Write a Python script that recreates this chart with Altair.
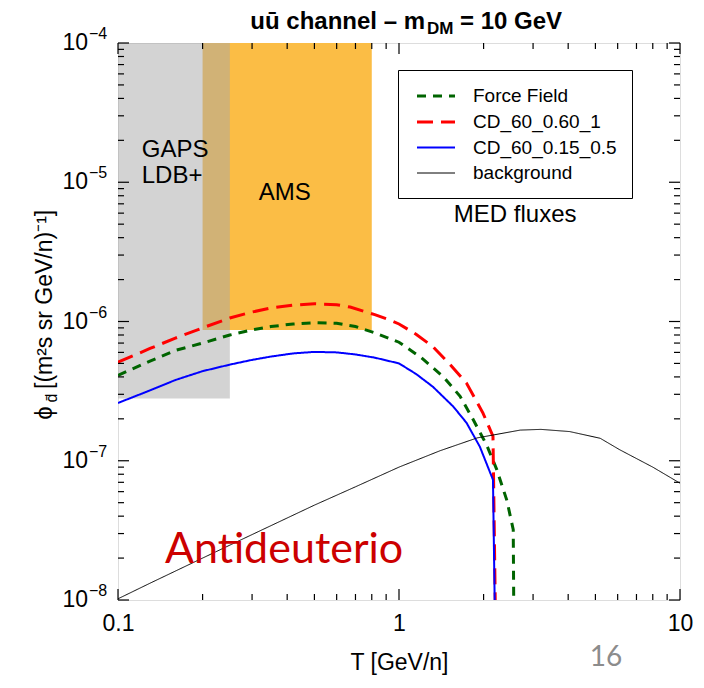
import altair as alt
import pandas as pd

# ---------------- data ----------------
series_names = ["Force Field", "CD_60_0.60_1", "CD_60_0.15_0.5", "background"]
series_colors = ["#006400", "#ff0000", "#0000ff", "#000000"]
series_dash = [[9, 7], [16, 8], [1, 0], [1, 0]]
series_width = [3, 3, 2, 1]

ff_T = [0.1, 0.13, 0.16, 0.2, 0.25, 0.3, 0.35, 0.42, 0.5, 0.6, 0.7, 0.82, 1.0, 1.2, 1.44, 1.65, 1.83, 2.05, 2.23, 2.42, 2.55, 2.56]
ff_phi = [4.1e-7, 5.2e-7, 6.2e-7, 7.0e-7, 8.0e-7, 8.7e-7, 9.2e-7, 9.6e-7, 9.8e-7, 9.7e-7, 9.2e-7, 8.3e-7,
          7.1e-7, 5.5e-7, 4.0e-7, 2.9e-7, 2.0e-7, 1.3e-7, 8.6e-8, 5.2e-8, 3.2e-8, 1e-8]

cd1_T = [0.1, 0.13, 0.16, 0.2, 0.25, 0.3, 0.35, 0.42, 0.5, 0.6, 0.67, 0.82, 0.92, 1.0, 1.15, 1.32, 1.52, 1.74, 1.99, 2.16, 2.2]
cd1_phi = [5.1e-7, 6.4e-7, 7.6e-7, 9.0e-7, 1.06e-6, 1.17e-6, 1.25e-6, 1.31e-6, 1.34e-6, 1.32e-6, 1.27e-6, 1.12e-6,
           1.03e-6, 9.6e-7, 8.1e-7, 6.6e-7, 4.9e-7, 3.6e-7, 2.2e-7, 1.5e-7, 1e-8]

cd2_T = [0.1, 0.13, 0.16, 0.2, 0.25, 0.3, 0.35, 0.42, 0.5, 0.6, 0.7, 0.82, 1.0, 1.15, 1.32, 1.56, 1.74, 1.94, 2.16, 2.19]
cd2_phi = [2.6e-7, 3.2e-7, 3.8e-7, 4.4e-7, 4.9e-7, 5.3e-7, 5.6e-7, 5.9e-7, 6.05e-7, 6.0e-7, 5.8e-7, 5.5e-7,
           5.0e-7, 4.2e-7, 3.4e-7, 2.45e-7, 1.87e-7, 1.26e-7, 7.3e-8, 1e-8]

bg_T = [0.1, 0.13, 0.2, 0.3, 0.387, 0.5, 0.7, 1.0, 1.4, 1.9, 2.7, 3.2, 4.05, 5.2, 6.1, 8.0, 10.0]
bg_phi = [1.02e-8, 1.32e-8, 2.0e-8, 2.95e-8, 3.76e-8, 4.8e-8, 6.5e-8, 9.0e-8, 1.18e-7, 1.46e-7, 1.66e-7, 1.68e-7,
          1.62e-7, 1.45e-7, 1.2e-7, 9.0e-8, 6.9e-8]

# shaded experiment regions
region_names = ["AMS", "GAPS LDB+"]
region_T0 = [0.2, 0.1]
region_T1 = [0.8, 0.25]
region_phi0 = [8.7e-7, 2.8e-7]
region_phi1 = [1e-4, 1e-4]
region_colors = ["#fbbd45", "#a8a8a8"]
region_opacity = [1.0, 0.5]

# in-plot annotations
note_text = ["GAPS", "LDB+", "AMS", "MED fluxes"]
note_T = [0.1215, 0.1215, 0.392, 2.59]
note_phi = [1.52e-5, 9.9e-6, 7.46e-6, 5.19e-6]
note_align = ["left", "left", "center", "center"]

x_major = [0.1, 1, 10]
x_major_labels = ["0.1", "1", "10"]
x_minor = [0.2, 0.3, 0.4, 0.5, 0.6, 0.7, 0.8, 0.9, 2, 3, 4, 5, 6, 7, 8, 9]
y_major = [1e-8, 1e-7, 1e-6, 1e-5, 1e-4]
y_exp_labels = ["\u22128", "\u22127", "\u22126", "\u22125", "\u22124"]
y_minor = [m * 10.0 ** e for e in range(-8, -4) for m in range(2, 10)]

# ---------------- build ----------------
W, H = 562, 557
FONT = "Liberation Sans"
xscale = alt.Scale(type="log", domain=[0.1, 10])
yscale = alt.Scale(type="log", domain=[1e-8, 1e-4])

rows = []
for name, Ts, ps in zip(series_names, [ff_T, cd1_T, cd2_T, bg_T], [ff_phi, cd1_phi, cd2_phi, bg_phi]):
    for i, (t, p) in enumerate(zip(Ts, ps)):
        rows.append({"series": name, "T": t, "phi": p, "ord": i})
lines_df = pd.DataFrame(rows)

reg_df = pd.DataFrame({"name": region_names, "T0": region_T0, "T1": region_T1,
                       "p0": region_phi0, "p1": region_phi1,
                       "col": region_colors, "op": region_opacity})

x_label_expr = "datum.value < 0.5 ? '0.1' : (datum.value < 5 ? '1' : '10')"
x_axis = alt.Axis(values=x_major, labelExpr=x_label_expr,
                  ticks=False, domain=False, grid=False, labelFont=FONT, labelFontSize=23,
                  labelColor="black", labelPadding=12, labelFlush=False,
                  title="T [GeV/n]", titleFont=FONT, titleFontSize=23, titleFontWeight="normal",
                  titleColor="black", titlePadding=16)

regions = alt.Chart(reg_df).mark_rect().encode(
    x=alt.X("T0:Q", scale=xscale, axis=x_axis),
    x2="T1:Q",
    y=alt.Y("p0:Q", scale=yscale, axis=None),
    y2="p1:Q",
    color=alt.Color("col:N", scale=None),
    opacity=alt.Opacity("op:Q", scale=None),
)

leg = alt.Legend(orient="none", legendX=280, legendY=27, title=None,
                 labelFont=FONT, labelFontSize=19, labelColor="black",
                 symbolType="M-2,0L2,0", symbolSize=361, symbolOffset=12, labelOffset=26,
                 padding=15, rowPadding=5, strokeColor="black", fillColor="white",
                 cornerRadius=0)

lines = alt.Chart(lines_df).mark_line(clip=True).encode(
    x=alt.X("T:Q", scale=xscale, axis=x_axis),
    y=alt.Y("phi:Q", scale=yscale, axis=None),
    color=alt.Color("series:N", scale=alt.Scale(domain=series_names, range=series_colors), legend=leg),
    strokeDash=alt.StrokeDash("series:N", scale=alt.Scale(domain=series_names, range=series_dash), legend=leg),
    strokeWidth=alt.StrokeWidth("series:N", scale=alt.Scale(type="ordinal", domain=series_names, range=series_width), legend=leg),
    order="ord:Q",
)

notes_df = pd.DataFrame({"text": note_text, "T": note_T, "phi": note_phi, "align": note_align})
notes_left = alt.Chart(notes_df[notes_df["align"] == "left"]).mark_text(
    font=FONT, fontSize=24, align="left", baseline="alphabetic", color="black"
).encode(x=alt.X("T:Q", scale=xscale), y=alt.Y("phi:Q", scale=yscale), text="text:N")
notes_center = alt.Chart(notes_df[notes_df["align"] == "center"]).mark_text(
    font=FONT, fontSize=24, align="center", baseline="alphabetic", color="black"
).encode(x=alt.X("T:Q", scale=xscale), y=alt.Y("phi:Q", scale=yscale), text="text:N")

anti = alt.Chart(pd.DataFrame({"t": ["Antideuterio"], "T": [0.39], "phi": [1.84e-8]})).mark_text(
    font="Lato", fontSize=43, color="#cc0000", align="center", baseline="alphabetic"
).encode(x=alt.X("T:Q", scale=xscale), y=alt.Y("phi:Q", scale=yscale), text="t:N")

# inward ticks
def xticks(vals, length):
    d = pd.DataFrame({"T": vals})
    base = alt.Chart(d).mark_rule(color="black", strokeWidth=1.2)
    bot = base.encode(x=alt.X("T:Q", scale=xscale), y=alt.value(H), y2=alt.value(H - length))
    top = base.encode(x=alt.X("T:Q", scale=xscale), y=alt.value(0), y2=alt.value(length))
    return [bot, top]

def yticks(vals, length):
    d = pd.DataFrame({"v": vals})
    base = alt.Chart(d).mark_rule(color="black", strokeWidth=1.2)
    left = base.encode(y=alt.Y("v:Q", scale=yscale), x=alt.value(0), x2=alt.value(length))
    right = base.encode(y=alt.Y("v:Q", scale=yscale), x=alt.value(W), x2=alt.value(W - length))
    return [left, right]

tick_layers = xticks(x_major, 11) + xticks(x_minor, 6) + yticks(y_major, 11) + yticks(y_minor, 6)

ylab_df = pd.DataFrame({"v": y_major, "e": y_exp_labels, "b": ["10"] * len(y_major)})
ylab_base = alt.Chart(ylab_df).mark_text(font=FONT, fontSize=23, align="right", baseline="middle", color="black").encode(
    y=alt.Y("v:Q", scale=yscale), x=alt.value(-30), text="b:N")
ylab_exp = alt.Chart(ylab_df).mark_text(font=FONT, fontSize=16, align="left", baseline="middle", dy=-9, color="black").encode(
    y=alt.Y("v:Q", scale=yscale), x=alt.value(-29), text="e:N")

# y axis title pieces (rotated)
ytitle_phi = alt.Chart(pd.DataFrame({"t": ["\u03d5"]})).mark_text(
    font=FONT, fontSize=24, angle=270, align="center", baseline="middle", color="black"
).encode(text="t:N", x=alt.value(-73), y=alt.value(370))
ytitle_sub = alt.Chart(pd.DataFrame({"t": ["d\u0304"]})).mark_text(
    font=FONT, fontSize=16, angle=270, align="center", baseline="middle", color="black"
).encode(text="t:N", x=alt.value(-66), y=alt.value(355))
ytitle_rest = alt.Chart(pd.DataFrame({"t": ["[(m\u00b2s sr GeV/n)\u207b\u00b9]"]})).mark_text(
    font=FONT, fontSize=23, angle=270, align="left", baseline="middle", color="black"
).encode(text="t:N", x=alt.value(-73), y=alt.value(346))

# title pieces
title_main = alt.Chart(pd.DataFrame({"t": ["u\u016b channel \u2013 m"]})).mark_text(
    font=FONT, fontSize=24, fontWeight="bold", align="right", baseline="alphabetic", color="black"
).encode(text="t:N", x=alt.value(307), y=alt.value(-14))
title_sub = alt.Chart(pd.DataFrame({"t": ["DM"]})).mark_text(
    font=FONT, fontSize=17, fontWeight="bold", align="left", baseline="alphabetic", color="black"
).encode(text="t:N", x=alt.value(309), y=alt.value(-9))
title_end = alt.Chart(pd.DataFrame({"t": ["= 10 GeV"]})).mark_text(
    font=FONT, fontSize=24, fontWeight="bold", align="left", baseline="alphabetic", color="black"
).encode(text="t:N", x=alt.value(342), y=alt.value(-14))

page_no = alt.Chart(pd.DataFrame({"t": ["16"]})).mark_text(
    font="Lato", fontSize=28, color="#8c8c8c", align="center", baseline="alphabetic"
).encode(text="t:N", x=alt.value(488), y=alt.value(66 + H))

chart = alt.layer(
    regions, lines, notes_left, notes_center, anti, *tick_layers,
    ylab_base, ylab_exp, ytitle_phi, ytitle_sub, ytitle_rest,
    title_main, title_sub, title_end, page_no
).properties(
    width=W, height=H,
    autosize=alt.AutoSizeParams(type="none"),
    padding={"left": 118, "top": 43, "right": 24, "bottom": 88},
).configure_view(stroke="black", strokeWidth=2).configure(background="white")

chart.save("out.html", embed_options={"renderer": "svg", "actions": False})
